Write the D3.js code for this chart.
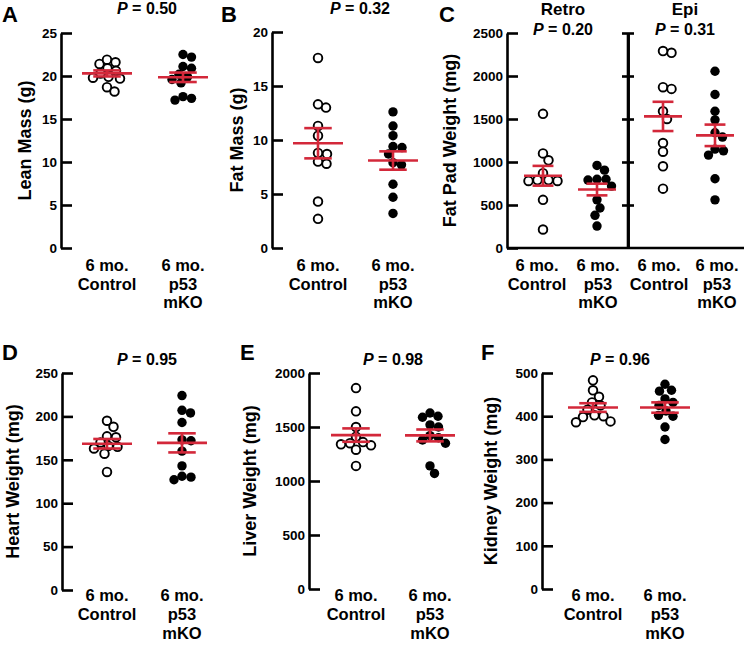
<!DOCTYPE html>
<html>
<head>
<meta charset="utf-8">
<title>Body composition and organ weights</title>
<script src="https://d3js.org/d3.v7.min.js"></script>
<style>
  body { margin: 0; background: #fff; }
  text { font-family: "Liberation Sans", Arial, sans-serif; font-weight: bold; fill: #000; }
</style>
</head>
<body>
<div id="chart"></div>
<script>
// values
const ctrlLabel = ["6 mo.", "Control"];
const koLabel = ["6 mo.", "p53", "mKO"];

const leanCtrl = [21.4, 21.9, 21.6, 20.9, 20.6, 20.3, 19.8, 19.7, 19.9, 18.7, 18.2];
const leanKO = [22.5, 22.2, 21.1, 20.9, 20.2, 19.9, 19.6, 19.2, 17.6, 17.2, 17.4];
const fatCtrl = [17.6, 13.0, 13.3, 11.3, 10.4, 8.8, 8.7, 7.8, 8.0, 4.3, 2.7];
const fatKO = [12.6, 11.3, 10.4, 9.4, 9.3, 8.7, 7.9, 7.7, 5.9, 4.7, 3.2];
const retroCtrl = [1560, 1100, 1020, 870, 790, 780, 790, 780, 560, 215];
const retroKO = [960, 905, 800, 790, 800, 720, 560, 465, 380, 255];
const epiCtrl = [2270, 2290, 1870, 1850, 1590, 1500, 1220, 1120, 950, 690];
const epiKO = [2055, 1785, 1590, 1490, 1340, 1290, 1150, 1130, 1080, 805, 560];
const heartCtrl = [195, 188, 177, 176, 170, 166, 165, 163, 157, 136];
const heartKO = [224, 207, 204, 193, 173, 172, 160, 143, 131, 130, 127];
const liverCtrl = [1860, 1645, 1500, 1410, 1340, 1330, 1350, 1360, 1290, 1140];
const liverKO = [1590, 1600, 1630, 1520, 1500, 1420, 1400, 1380, 1350, 1140, 1070];
const kidneyCtrl = [483, 460, 445, 432, 425, 415, 402, 400, 398, 388, 386];
const kidneyKO = [474, 458, 460, 440, 432, 425, 412, 402, 400, 375, 346];

// [mean, sem] for control and mKO
const leanStats = [[20.3, 0.35], [19.85, 0.55]];
const fatStats = [[9.7, 1.4], [8.1, 0.85]];
const retroStats = [[840, 115], [680, 68]];
const epiStats = [[1530, 170], [1310, 125]];
const heartStats = [[168.5, 5.5], [169.5, 11]];
const liverStats = [[1425, 62], [1422, 55]];
const kidneyStats = [[420, 10], [420, 12]];

const pValues = ["0.50", "0.32", "0.20", "0.31", "0.95", "0.98", "0.96"];
const leanTicks = [0, 5, 10, 15, 20, 25];
const fatTicks = [0, 5, 10, 15, 20];
const padTicks = [0, 500, 1000, 1500, 2000, 2500];
const heartTicks = [0, 50, 100, 150, 200, 250];
const liverTicks = [0, 500, 1000, 1500, 2000];
const kidneyTicks = [0, 100, 200, 300, 400, 500];

const red = "#d3283a";
const W = 745, H = 647;

const svg = d3.select("#chart").append("svg")
    .attr("width", W).attr("height", H);

// panels: layout only
const panels = [
  { letter: "A", lx: 2, ly: 22, ax: 61, top: 33, bottom: 248, ticks: leanTicks, title: "Lean Mass (g)", tx: 25,
    groups: [{ x: 107, v: leanCtrl, s: leanStats[0], open: true, label: ctrlLabel },
             { x: 183, v: leanKO, s: leanStats[1], open: false, label: koLabel }],
    p: [{ x: 147, y: 14, t: pValues[0] }], labY: 271, lh: 18.5, mw: 25 },
  { letter: "B", lx: 221, ly: 22, ax: 272, top: 32, bottom: 248, ticks: fatTicks, title: "Fat Mass (g)", tx: 237,
    groups: [{ x: 318, v: fatCtrl, s: fatStats[0], open: true, label: ctrlLabel },
             { x: 393, v: fatKO, s: fatStats[1], open: false, label: koLabel }],
    p: [{ x: 360, y: 14, t: pValues[1] }], labY: 271, lh: 18.5, mw: 25 },
  { letter: "C", lx: 439, ly: 22, ax: 507, top: 33, bottom: 248, ticks: padTicks, title: "Fat Pad Weight (mg)", tx: 450,
    mid: 628, xaxis: true,
    groups: [{ x: 543, v: retroCtrl, s: retroStats[0], open: true, label: ctrlLabel },
             { x: 597, v: retroKO, s: retroStats[1], open: false, label: koLabel },
             { x: 663, v: epiCtrl, s: epiStats[0], open: true, label: ctrlLabel },
             { x: 715, v: epiKO, s: epiStats[1], open: false, label: koLabel }],
    p: [{ x: 563, y: 35, t: pValues[2], head: "Retro" }, { x: 685, y: 35, t: pValues[3], head: "Epi" }],
    labY: 271, lh: 18.5, mw: 19, labX: [537, 598, 659, 717] },
  { letter: "D", lx: 2, ly: 360, ax: 62, top: 373, bottom: 590, ticks: heartTicks, title: "Heart Weight (mg)", tx: 13,
    groups: [{ x: 107, v: heartCtrl, s: heartStats[0], open: true, label: ctrlLabel },
             { x: 182, v: heartKO, s: heartStats[1], open: false, label: koLabel }],
    p: [{ x: 147, y: 365, t: pValues[4] }], labY: 601, lh: 19, mw: 25 },
  { letter: "E", lx: 240, ly: 360, ax: 309, top: 373, bottom: 589, ticks: liverTicks, title: "Liver Weight (mg)", tx: 250,
    groups: [{ x: 356, v: liverCtrl, s: liverStats[0], open: true, label: ctrlLabel },
             { x: 430, v: liverKO, s: liverStats[1], open: false, label: koLabel }],
    p: [{ x: 393, y: 365, t: pValues[5] }], labY: 601, lh: 19, mw: 25 },
  { letter: "F", lx: 481, ly: 360, ax: 542, top: 373, bottom: 589, ticks: kidneyTicks, title: "Kidney Weight (mg)", tx: 491,
    groups: [{ x: 593, v: kidneyCtrl, s: kidneyStats[0], open: true, label: ctrlLabel },
             { x: 665, v: kidneyKO, s: kidneyStats[1], open: false, label: koLabel }],
    p: [{ x: 620, y: 365, t: pValues[6] }], labY: 601, lh: 19, mw: 25 }
];

// simple beeswarm: offsets so circles do not pile up
function swarm(vals, y, d) {
  const idx = d3.range(vals.length).sort((a, b) => vals[b] - vals[a]);
  const placed = [];
  const out = [];
  idx.forEach(i => {
    const py = y(vals[i]);
    for (let k = 0; k < 200; k++) {
      const dx = (k % 2 ? 1 : -1) * Math.ceil(k / 2) * 0.5;
      if (placed.every(p => Math.hypot(p.x - dx, p.y - py) >= d)) {
        placed.push({ x: dx, y: py });
        out[i] = { dx, py };
        break;
      }
    }
  });
  return out;
}

panels.forEach(P => {
  const g = svg.append("g");
  const y = d3.scaleLinear().domain(d3.extent(P.ticks)).range([P.bottom, P.top]);

  g.append("text").attr("x", P.lx).attr("y", P.ly)
      .style("font-size", "22px").text(P.letter);

  const ax = g.append("g").attr("transform", `translate(${P.ax},0)`)
      .call(d3.axisLeft(y).tickValues(P.ticks).tickFormat(d3.format("d"))
        .tickSizeInner(-11).tickSizeOuter(0).tickPadding(4));
  ax.selectAll("path, line").attr("stroke", "#000").attr("stroke-width", 2.6);
  ax.selectAll("text").style("font-size", "13.5px").style("font-family", "'Liberation Sans', Arial, sans-serif")
      .style("font-weight", "bold");

  if (P.mid) {
    [6, -6].forEach(s => {
      const m = g.append("g").attr("transform", `translate(${P.mid},0)`)
          .call(d3.axisLeft(y).tickValues(P.ticks.slice(1)).tickSizeInner(s).tickSizeOuter(0).tickFormat(""));
      m.selectAll("path, line").attr("stroke", "#000").attr("stroke-width", 2.6);
    });
    g.append("path").attr("d", `M${P.mid},${P.top}V${P.bottom}`).attr("stroke", "#000").attr("stroke-width", 2.6);
  }
  if (P.xaxis) {
    g.append("line").attr("x1", P.ax).attr("x2", 744).attr("y1", P.bottom).attr("y2", P.bottom)
        .attr("stroke", "#000").attr("stroke-width", 2.6);
  }

  g.append("text")
      .attr("transform", `translate(${P.tx},${(P.top + P.bottom) / 2}) rotate(-90)`)
      .attr("text-anchor", "middle").attr("dy", "0.36em")
      .style("font-size", "18px").text(P.title);

  P.p.forEach(pv => {
    if (pv.head) {
      g.append("text").attr("x", pv.x).attr("y", pv.y - 20).attr("text-anchor", "middle")
          .style("font-size", "17px").text(pv.head);
    }
    const t = g.append("text").attr("x", pv.x).attr("y", pv.y).attr("text-anchor", "middle")
        .style("font-size", "16px");
    t.append("tspan").style("font-style", "italic").text("P");
    t.append("tspan").text(" = " + pv.t);
  });

  P.groups.forEach((G, gi) => {
    const pts = swarm(G.v, y, 8.6);
    g.selectAll(null).data(G.v).enter().append("circle")
        .attr("cx", (d, i) => G.x + pts[i].dx)
        .attr("cy", (d, i) => pts[i].py)
        .attr("r", G.open ? 4.3 : 4.7)
        .attr("fill", G.open ? "#fff" : "#000")
        .attr("stroke", "#000")
        .attr("stroke-width", G.open ? 1.9 : 0);

    const [m, s] = G.s;
    const cw = P.mw * 0.55;
    const eb = g.append("g").attr("stroke", red).attr("stroke-width", 2.6).attr("fill", "none");
    eb.append("line").attr("x1", G.x - P.mw).attr("x2", G.x + P.mw).attr("y1", y(m)).attr("y2", y(m));
    eb.append("line").attr("x1", G.x).attr("x2", G.x).attr("y1", y(m - s)).attr("y2", y(m + s));
    [m - s, m + s].forEach(v => eb.append("line")
        .attr("x1", G.x - cw).attr("x2", G.x + cw).attr("y1", y(v)).attr("y2", y(v)));

    const lx = P.labX ? P.labX[gi] : G.x;
    const lab = g.append("text").attr("text-anchor", "middle").style("font-size", "16.5px");
    G.label.forEach((l, li) => lab.append("tspan").attr("x", lx).attr("y", P.labY + li * P.lh).text(l));
  });
});
</script>
</body>
</html>
